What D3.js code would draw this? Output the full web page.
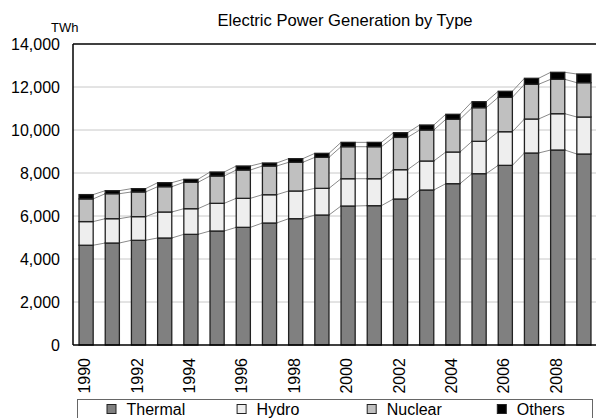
<!DOCTYPE html>
<html>
<head>
<meta charset="utf-8">
<script src="https://cdn.jsdelivr.net/npm/d3@7"></script>
<style>
  html, body { margin: 0; padding: 0; background: #fff; }
  svg { display: block; font-family: "Liberation Sans", Arial, sans-serif; }
</style>
</head>
<body>
<svg id="chart" width="596" height="418"></svg>
<script>
const years = [1990,1991,1992,1993,1994,1995,1996,1997,1998,1999,2000,2001,2002,2003,2004,2005,2006,2007,2008,2009];
const thermal = [4640,4744,4870,4977,5147,5302,5473,5674,5875,6046,6465,6480,6790,7209,7503,7968,8356,8930,9069,8883];
const hydro   = [1100,1131,1100,1209,1193,1288,1349,1316,1288,1241,1269,1254,1364,1349,1473,1506,1564,1581,1689,1721];
const nuclear = [1055,1162,1148,1177,1225,1270,1317,1335,1333,1441,1489,1489,1503,1441,1521,1563,1601,1614,1599,1596];
const others  = [200,140,154,186,140,186,186,140,170,186,202,202,217,233,233,279,279,279,326,404];
const seriesNames = ["Thermal","Hydro","Nuclear","Others"];
const seriesColors = ["#808080","#eeeeee","#c0c0c0","#000000"];
const yTicks = [0,2000,4000,6000,8000,10000,12000,14000];
const xLabelYears = [1990,1992,1994,1996,1998,2000,2002,2004,2006,2008];

(function(){
const svg = d3.select("#chart");
const pL = 73, pR = 597, pT = 44, pB = 345;
const FF = "Liberation Sans, Arial, sans-serif";

const data = years.map((yr,i) => ({year:yr, Thermal:thermal[i], Hydro:hydro[i], Nuclear:nuclear[i], Others:others[i]}));
const stacked = d3.stack().keys(seriesNames)(data);

const x = d3.scaleBand().domain(years).range([pL, pR]).paddingInner(0.46).paddingOuter(0.23);
const y = d3.scaleLinear().domain([0,14000]).range([pB, pT]);

// gridlines
svg.append("g").selectAll("line").data(yTicks.filter(t => t>0 && t<14000)).join("line")
  .attr("x1", pL).attr("x2", 596).attr("y1", d=>y(d)).attr("y2", d=>y(d))
  .attr("stroke", "#c8c8c8").attr("stroke-width", 1);

// connectors
const connG = svg.append("g");
stacked.forEach(s => {
  for (let i = 0; i < s.length-1; i++) {
    connG.append("line")
      .attr("x1", x(years[i]) + x.bandwidth()).attr("y1", y(s[i][1]))
      .attr("x2", x(years[i+1])).attr("y2", y(s[i+1][1]))
      .attr("stroke", "#8a8a8a").attr("stroke-width", 1);
  }
});

// bars
stacked.forEach((s, k) => {
  svg.append("g").selectAll("rect").data(s).join("rect")
    .attr("x", d => x(d.data.year))
    .attr("width", x.bandwidth())
    .attr("y", d => y(d[1]))
    .attr("height", d => y(d[0]) - y(d[1]))
    .attr("fill", seriesColors[k])
    .attr("stroke", "#222").attr("stroke-width", 1.3);
});

// axes frame
svg.append("line").attr("x1", pL).attr("x2", pL).attr("y1", pT).attr("y2", pB).attr("stroke","#000").attr("stroke-width",1.5);
svg.append("line").attr("x1", pL).attr("x2", 596).attr("y1", pT).attr("y2", pT).attr("stroke","#000").attr("stroke-width",1.3);
svg.append("line").attr("x1", pL).attr("x2", 596).attr("y1", pB).attr("y2", pB).attr("stroke","#000").attr("stroke-width",1.5);

// y tick labels
const yAxis = d3.axisLeft(y).tickValues(yTicks).tickSize(0).tickPadding(13).tickFormat(d3.format(","));
const ya = svg.append("g").attr("transform", `translate(${pL},0)`).call(yAxis);
ya.select(".domain").remove();
ya.selectAll("text").attr("font-size", 16).attr("fill", "#000").attr("font-family", FF);

// x labels
const xAxis = d3.axisBottom(x).tickValues(xLabelYears).tickSize(0);
const xa = svg.append("g").attr("transform", `translate(0,${pB})`).call(xAxis);
xa.select(".domain").remove();
xa.selectAll("text")
  .attr("font-size", 16).attr("fill", "#000").attr("font-family", FF)
  .attr("transform", "rotate(-90)")
  .attr("text-anchor", "end")
  .attr("x", -13).attr("y", -1.5).attr("dy", "0.35em");

// title
svg.append("text").attr("x", 345).attr("y", 26).attr("text-anchor","middle")
  .attr("font-size", 16.6).attr("font-family", FF).text("Electric Power Generation by Type");
svg.append("text").attr("x", 51).attr("y", 31.5).attr("font-size", 13).attr("font-family", FF).text("TWh");

// legend
const legL = 77, legR = 592, legT = 399;
svg.append("rect").attr("x", legL+0.5).attr("y", legT+0.5).attr("width", legR-legL).attr("height", 30)
  .attr("fill","#fff").attr("stroke","#666").attr("stroke-width",1);
const legStart = 106.5, legStep = 130.1;
seriesNames.forEach((n,k) => {
  const sx = legStart + legStep*k;
  svg.append("text").attr("font-size", 16).attr("font-family", FF).attr("y", 415).attr("x", sx + 20).text(n);
  svg.append("rect").attr("x", sx+0.5).attr("y", 404.5).attr("width", 9).attr("height", 9)
    .attr("fill", seriesColors[k]).attr("stroke", "#222").attr("stroke-width", 1);
});
})();
</script>
</body>
</html>
